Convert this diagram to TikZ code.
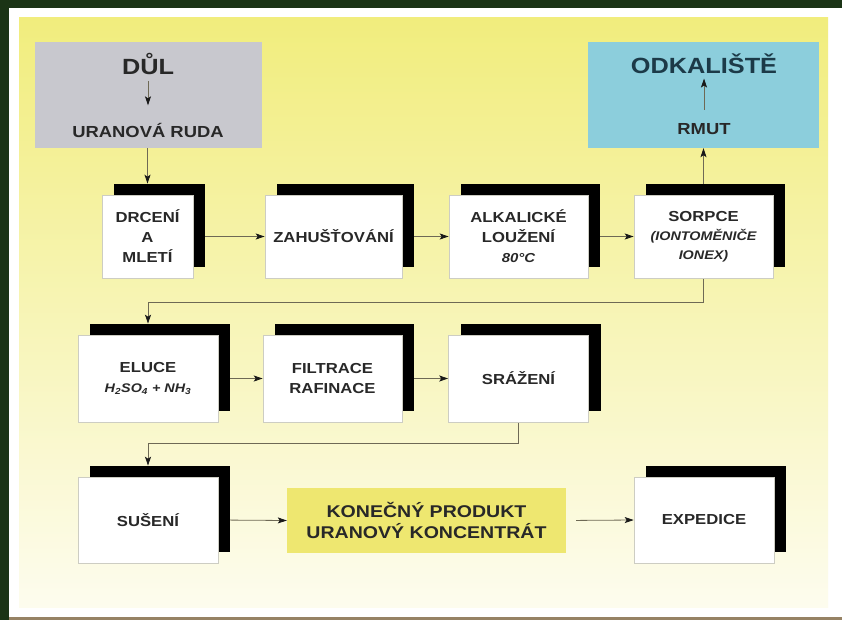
\documentclass[tikz,border=0pt]{standalone}
\usepackage{fontspec}
\setmainfont{Liberation Sans}[FakeStretch=1.15]
\usetikzlibrary{shadows,arrows.meta}
\pgfdeclarelayer{bg}
\pgfdeclarelayer{conn}
\pgfsetlayers{bg,conn,main}
\definecolor{darkgr}{RGB}{27,52,22}
\definecolor{bottomline}{RGB}{150,130,100}
\definecolor{ytop}{RGB}{241,237,125}
\definecolor{ymid}{RGB}{246,242,178}
\definecolor{ybot}{RGB}{253,252,238}
\definecolor{greybox}{RGB}{200,200,206}
\definecolor{bluebox}{RGB}{140,206,220}
\definecolor{prodbox}{RGB}{238,231,112}
\definecolor{txt}{RGB}{40,40,40}
\definecolor{bluetxt}{RGB}{28,58,72}
\definecolor{linec}{RGB}{110,105,85}
\definecolor{tipc}{RGB}{25,25,25}
\definecolor{edgec}{RGB}{205,205,195}
\begin{document}
\begin{tikzpicture}[x=1pt,y=-1pt,
  box/.style={draw=edgec, line width=0.6pt, fill=white, inner sep=0pt,
    drop shadow={shadow xshift=12pt, shadow yshift=11pt, fill=black, opacity=1},
    align=center, text=txt, font=\bfseries\fontsize{14.5}{20}\selectfont},
  flow/.style={draw=linec, line width=0.8pt, -{Stealth[length=9pt,width=6pt,inset=2pt,color=tipc]}}
]
\useasboundingbox (0,0) rectangle (842,620);
\begin{pgfonlayer}{bg}
\fill[white] (0,0) rectangle (842,620);
\fill[darkgr] (0,0) rectangle (842,8);
\fill[darkgr] (0,0) rectangle (9,620);
\fill[bottomline] (9,617) rectangle (842,620);
\shade[top color=ytop, middle color=ymid, bottom color=ybot] (19,18) rectangle (828,607);
\end{pgfonlayer}

% top boxes
\node[fill=greybox, minimum width=227pt, minimum height=106pt, inner sep=0pt] (dulbox) at (148.5,95) {};
\node[fill=bluebox, minimum width=231pt, minimum height=106pt, inner sep=0pt] (odkbox) at (703.5,95) {};
\node[text=txt, font=\bfseries\fontsize{22}{26}\selectfont] (dul) at (148,64) {DŮL};
\node[text=txt, font=\bfseries\fontsize{16}{20}\selectfont] (ruda) at (148,130) {URANOVÁ RUDA};
\node[text=bluetxt, font=\bfseries\fontsize{22}{26}\selectfont] (odk) at (704,64) {ODKALIŠTĚ};
\node[text=txt, font=\bfseries\fontsize{16}{20}\selectfont] (rmut) at (704,129) {RMUT};
\draw[flow, shorten <=3pt, shorten >=14pt] (dul.south) -- (ruda.north);
\draw[flow, shorten <=10pt, shorten >=1pt] (rmut.north) -- (odk.south);

% row 1
\node[box, minimum width=91pt, minimum height=83pt] (b1) at (147.5,236.5) {DRCENÍ\\A\\MLETÍ};
\node[box, minimum width=137pt, minimum height=83pt] (b2) at (333.5,236.5) {ZAHUŠŤOVÁNÍ};
\node[box, minimum width=139pt, minimum height=83pt] (b3) at (518.5,236.5) {ALKALICKÉ\\LOUŽENÍ\\{\fontsize{13}{20}\itshape\selectfont 80°C}};
\node[box, minimum width=139pt, minimum height=83pt] (b4) at (703.5,236.5) {SORPCE\\[-1pt]{\fontsize{12.5}{19}\itshape\selectfont (IONTOMĚNIČE}\\[-1pt]{\fontsize{12.5}{19}\itshape\selectfont IONEX)}};

% row 2
\node[box, minimum width=140pt, minimum height=87pt] (b5) at (148,378.5) {ELUCE\\{\fontsize{12.5}{19}\itshape\selectfont H\textsubscript{2}SO\textsubscript{4} + NH\textsubscript{3}}};
\node[box, minimum width=139pt, minimum height=87pt] (b6) at (332.5,378.5) {FILTRACE\\RAFINACE};
\node[box, minimum width=140pt, minimum height=87pt] (b7) at (518.5,378.5) {SRÁŽENÍ};

% row 3
\node[box, minimum width=140pt, minimum height=86pt] (b8) at (148,520) {SUŠENÍ};
\node[fill=prodbox, minimum width=279pt, minimum height=65pt, inner sep=0pt, align=center, text=txt,
  font=\bfseries\fontsize{17}{21}\selectfont] (prod) at (426.5,520.5) {KONEČNÝ PRODUKT\\URANOVÝ KONCENTRÁT};
\node[box, minimum width=140pt, minimum height=86pt] (b9) at (704,520) {EXPEDICE};

% connectors
\begin{pgfonlayer}{conn}
\draw[flow] (b1.north |- dulbox.south) -- ([yshift=11pt]b1.north);
\draw[flow] (b4.north) -- (b4.north |- odkbox.south);
\draw[flow] (b1.east) -- (b2.west);
\draw[flow] (b2.east) -- (b3.west);
\draw[flow] (b3.east) -- (b4.west);
\draw[flow] (b4.south) -- ++(0,24) -| ([yshift=11pt]b5.north);
\draw[flow] (b5.east) -- (b6.west);
\draw[flow] (b6.east) -- (b7.west);
\draw[flow] (b7.south) -- ++(0,21) -| ([yshift=11pt]b8.north);
\draw[flow] (b8.east) -- (prod.west);
\draw[flow, shorten <=10pt] (prod.east) -- (b9.west);
\end{pgfonlayer}
\end{tikzpicture}
\end{document}
